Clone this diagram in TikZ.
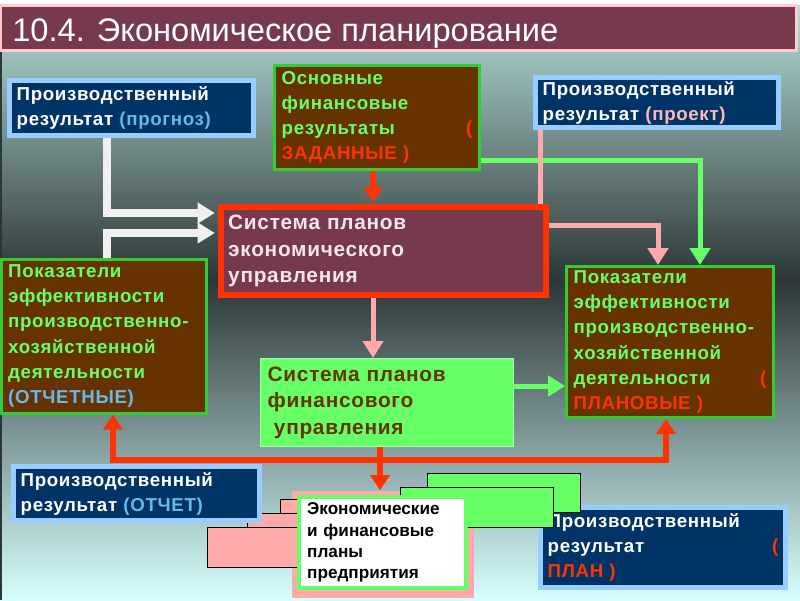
\documentclass[tikz,border=0pt]{standalone}
\usepackage{fontspec}
\setmainfont{Liberation Sans}
\newfontfamily\boxfont{Liberation Sans}[LetterSpace=3.5]
\usetikzlibrary{arrows.meta}

\definecolor{navy}{HTML}{003366}
\definecolor{skyline}{HTML}{99CCFF}
\definecolor{skytext}{HTML}{66B8EE}
\definecolor{brown}{HTML}{663300}
\definecolor{leaf}{HTML}{33CC33}
\definecolor{lime}{HTML}{66FF66}
\definecolor{flame}{HTML}{FF3300}
\definecolor{rose}{HTML}{FFAAAA}
\definecolor{rosetext}{HTML}{FFB8B8}
\definecolor{wine}{HTML}{773A4D}
\definecolor{winetext}{HTML}{F4E4EC}
\definecolor{chalk}{HTML}{F0F0F0}
\definecolor{bgtop}{HTML}{B8E2DE}
\definecolor{bgdark}{HTML}{2C3636}
\definecolor{bgbot}{HTML}{D8FFFF}

\newcommand{\pushright}{\hskip0pt plus1fill}

\begin{document}
\begin{tikzpicture}[x=0.025cm, y=-0.025cm,
    sz/.style 2 args={minimum width=#1*0.025cm, minimum height=#2*0.025cm,
        text width=#1*0.025cm-0.36cm},
    boxtext/.style={rectangle, inner xsep=0.18cm, inner ysep=0pt, align=left,
        font=\boxfont\bfseries\fontsize{13.3}{17.8}\selectfont},
    bigtext/.style={font=\boxfont\bfseries\fontsize{14.8}{18.8}\selectfont},
    navybox/.style={boxtext, draw=skyline, line width=0.125cm, fill=navy, text=white},
    brownbox/.style={boxtext, draw=leaf, line width=0.075cm, fill=brown, text=lime},
    winebox/.style={boxtext, bigtext, draw=flame, line width=0.15cm, fill=wine, text=winetext},
    limebox/.style={boxtext, bigtext, draw=lime!60!white, line width=0.03cm, fill=lime, text=brown},
    planbox/.style={boxtext, draw=lime, line width=0.1cm, fill=white, text=black,
        inner xsep=0.2cm, font=\bfseries\fontsize{12.2}{15.2}\selectfont},
    sheet/.style={draw=black, line width=0.4pt},
    whitearrow/.style={draw=chalk, line width=0.18cm, -{Triangle[length=0.43cm, width=0.5cm]}},
    redarrow/.style={draw=flame, line width=0.15cm, -{Triangle[length=0.38cm, width=0.48cm]}},
    greenarrow/.style={draw=lime, line width=0.125cm, -{Triangle[length=0.42cm, width=0.5cm]}},
    pinkarrow/.style={draw=rose, line width=0.125cm, -{Triangle[length=0.42cm, width=0.5cm]}},
    pinkline/.style={draw=rose, line width=0.125cm}]

\useasboundingbox (0,0) rectangle (800,600);

% background
\fill[top color=bgtop, bottom color=bgdark] (0,0) rectangle (800,280);
\fill[top color=bgdark, bottom color=bgbot] (0,280) rectangle (800,600.5);
\fill[white!90!bgtop] (0,0) rectangle (800,5);
\draw[bgdark, line width=0.05cm] (1,52) -- (1,600);

% title
\draw[draw=rose!60!white, line width=0.075cm, fill=wine] (0,5) rectangle (796,50);
\node[anchor=base west, text=white, inner sep=0pt, font=\fontsize{23.2}{26}\selectfont]
    (title) at (12,41) {10.4. Экономическое планирование};

% upper row
\node[navybox, sz={244}{55}] (prognoz) at (131.5,108)
    {Производственный\\результат {\color{skytext}(прогноз)}};
\node[brownbox, sz={205}{104}] (zadannye) at (377,117.5)
    {Основные\\финансовые\\результаты\pushright{\color{flame}(}\\{\color{flame}ЗАДАННЫЕ )}};
\node[navybox, sz={243}{50}] (proekt) at (657,102.5)
    {Производственный\\результат {\color{rosetext}(проект)}};

% middle
\node[winebox, sz={325}{88}] (sysecon) at (383.5,251)
    {Система планов\\экономического\\управления};
\node[brownbox, sz={205}{154}] (otchetnye) at (103.5,336)
    {Показатели\\эффективности\\производственно-\\хозяйственной\\деятельности\\{\color{skytext}(ОТЧЕТНЫЕ)}};
\node[brownbox, sz={207}{151}] (planovye) at (670,342)
    {Показатели\\эффективности\\производственно-\\хозяйственной\\деятельности\pushright{\color{flame}(}\\{\color{flame}ПЛАНОВЫЕ )}};
\node[limebox, sz={253}{88}] (sysfin) at (387,402.5)
    {Система планов\\финансового\\\hspace{0.3em}управления};

% bottom stack of plans
\fill[rose] (292,491) rectangle (474,598);
\filldraw[sheet, fill=rose] (280,499) rectangle (320,522);
\filldraw[sheet, fill=rose] (247,513) rectangle (320,540);
\filldraw[sheet, fill=rose] (207,527) rectangle (320,567);
\node[navybox, sz={246}{54}] (otchet) at (136.5,493.5)
    {Производственный\\результат {\color{skytext}(ОТЧЕТ)}};
\node[navybox, sz={245}{80}] (plan) at (663,547.5)
    {Производственный\\результат\pushright{\color{flame}(}\\{\color{flame}ПЛАН )}};
\filldraw[sheet, fill=lime] (427,473) rectangle (580,512);
\filldraw[sheet, fill=lime] (400,487) rectangle (553,527);
\node[planbox, sz={165}{91}] (plany) at (382.5,542.5)
    {Экономические\\и финансовые\\планы\\предприятия};

% connectors
\coordinate (wa) at (107,213);
\coordinate (wb) at (107,233);
\coordinate (rd) at (373,0);
\coordinate (gn) at (700,160);
\coordinate (pk) at (540,0);
\coordinate (pb) at (658,225);
\coordinate (gc) at (0,386);
\coordinate (bus) at (380,460);
\coordinate (bl) at (113,0);
\coordinate (br) at (666,0);

\draw[whitearrow, shorten >=0.08cm] (prognoz.south -| wa) |- (sysecon.west |- wa);
\draw[whitearrow, shorten >=0.08cm] (otchetnye.north -| wb) |- (sysecon.west |- wb);
\draw[redarrow, shorten >=0.05cm] (zadannye.south -| rd) -- (sysecon.north -| rd);
\draw[greenarrow] (zadannye.east |- gn) -| (planovye.north -| gn);
\draw[pinkline] (proekt.south -| pk) -- (sysecon.north -| pk);
\draw[pinkarrow] (sysecon.east |- pb) -| (planovye.north -| pb);
\draw[pinkarrow] (sysecon.south -| rd) -- (sysfin.north -| rd);
\draw[greenarrow] (sysfin.east |- gc) -- (planovye.west |- gc);
\draw[redarrow, shorten >=0.12cm] (sysfin.south -| bus) -- (plany.north -| bus);
\draw[redarrow] (bus) -| (otchetnye.south -| bl);
\draw[redarrow] (bus) -| (planovye.south -| br);

\end{tikzpicture}
\end{document}
